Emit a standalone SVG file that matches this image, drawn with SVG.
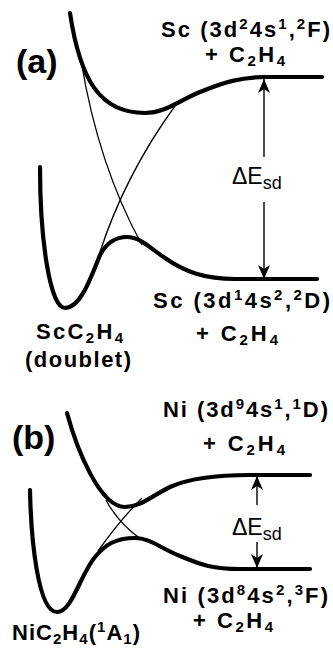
<svg xmlns="http://www.w3.org/2000/svg" width="333" height="648" viewBox="0 0 333 648">
<style>
.thick{fill:none;stroke:#000;stroke-width:4.2;stroke-linecap:round;stroke-linejoin:round}
.thin{fill:none;stroke:#000;stroke-width:1.3}
.arr{fill:none;stroke:#000;stroke-width:1.4}
.lbl{font-family:"Liberation Sans",Arial,sans-serif;font-weight:bold;font-size:22px;fill:#000}
.big{font-family:"Liberation Sans",Arial,sans-serif;font-weight:bold;font-size:34px;fill:#000}
.de{font-family:"Liberation Sans",Arial,sans-serif;font-size:23px;fill:#000}
.s{font-size:15px}
.sd{font-size:18px}
</style>
<defs>
<marker id="ah" viewBox="0 0 14 12" markerUnits="userSpaceOnUse" markerWidth="14" markerHeight="12" refX="14" refY="6" orient="auto">
<path d="M0,0 L14,6 L0,12 L4,6 Z" fill="#000"/>
</marker>
</defs>
<rect width="333" height="648" fill="#fff"/>

<g id="panel-a-curves">
<path id="a-upper" class="thick" d="M70,13 C80,80 100,113 145,113 C165,113 180,100 200,92 C222,83 240,77 265,77 L322,77"/>
<path id="a-lower" class="thick" d="M40,167 C40,240 50,308 65,308 C80,308 90,280 100,255 C108,240 118,237 127,237 C140,237 150,248 165,258 C185,272 205,279 235,279 L317,279"/>
<path id="a-diab1" class="thin" d="M81,60 Q98,165 142,245"/>
<path id="a-diab2" class="thin" d="M100,252 Q125,175 175,106"/>
</g>

<g id="panel-b-curves">
<path id="b-upper" class="thick" d="M67,413 C77,450 100,507 125,507 C140,507 150,497 170,487 C190,478 215,475 250,475 L310,475"/>
<path id="b-lower" class="thick" d="M30,490 C31,540 38,612 57,612 C72,612 80,575 95,557 C105,545 115,538 135,538 C150,538 160,548 180,556 C200,564 210,569 240,569 L310,569"/>
<path id="b-diab1" class="thin" d="M106,500 Q118,523 142,540"/>
<path id="b-diab2" class="thin" d="M142,498 Q120,520 98,551"/>
</g>

<g id="connectors">
<path class="arr" d="M264,157 L264,79" marker-end="url(#ah)"/>
<path class="arr" d="M264,202 L264,279" marker-end="url(#ah)"/>
<path class="arr" d="M257,505 L257,476" marker-end="url(#ah)"/>
<path class="arr" d="M257,542 L257,568" marker-end="url(#ah)"/>
</g>

<g id="label-a"><text class="big" x="16" y="73">(a)</text></g>
<g id="sc-excited">
<text class="lbl" x="161" y="37" textLength="169" lengthAdjust="spacing">Sc (3d<tspan class="s" dy="-8">2</tspan><tspan dy="8">4s</tspan><tspan class="s" dy="-8">1</tspan><tspan dy="8">,</tspan><tspan class="s" dy="-8">2</tspan><tspan dy="8">F)</tspan></text>
<text class="lbl" x="205" y="62" textLength="80" lengthAdjust="spacing">+ C<tspan class="s" dy="4">2</tspan><tspan dy="-4">H</tspan><tspan class="s" dy="4">4</tspan></text>
</g>
<g id="de-a"><text class="de" x="232" y="184">ΔE<tspan class="sd" dy="5">sd</tspan></text></g>
<g id="sc-ground">
<text class="lbl" x="153" y="308" textLength="177" lengthAdjust="spacing">Sc (3d<tspan class="s" dy="-8">1</tspan><tspan dy="8">4s</tspan><tspan class="s" dy="-8">2</tspan><tspan dy="8">,</tspan><tspan class="s" dy="-8">2</tspan><tspan dy="8">D)</tspan></text>
<text class="lbl" x="196" y="341" textLength="82" lengthAdjust="spacing">+ C<tspan class="s" dy="4">2</tspan><tspan dy="-4">H</tspan><tspan class="s" dy="4">4</tspan></text>
</g>
<g id="scc2h4">
<text class="lbl" x="36" y="339" textLength="87" lengthAdjust="spacing">ScC<tspan class="s" dy="4">2</tspan><tspan dy="-4">H</tspan><tspan class="s" dy="4">4</tspan></text>
<text class="lbl" x="25" y="367" textLength="106" lengthAdjust="spacing">(doublet)</text>
</g>

<g id="label-b"><text class="big" x="12" y="449">(b)</text></g>
<g id="ni-excited">
<text class="lbl" x="163" y="417" textLength="165" lengthAdjust="spacing">Ni (3d<tspan class="s" dy="-8">9</tspan><tspan dy="8">4s</tspan><tspan class="s" dy="-8">1</tspan><tspan dy="8">,</tspan><tspan class="s" dy="-8">1</tspan><tspan dy="8">D)</tspan></text>
<text class="lbl" x="203" y="451" textLength="82" lengthAdjust="spacing">+ C<tspan class="s" dy="4">2</tspan><tspan dy="-4">H</tspan><tspan class="s" dy="4">4</tspan></text>
</g>
<g id="de-b"><text class="de" x="232" y="535">ΔE<tspan class="sd" dy="5">sd</tspan></text></g>
<g id="ni-ground">
<text class="lbl" x="163" y="603" textLength="165" lengthAdjust="spacing">Ni (3d<tspan class="s" dy="-8">8</tspan><tspan dy="8">4s</tspan><tspan class="s" dy="-8">2</tspan><tspan dy="8">,</tspan><tspan class="s" dy="-8">3</tspan><tspan dy="8">F)</tspan></text>
<text class="lbl" x="193" y="628" textLength="80" lengthAdjust="spacing">+ C<tspan class="s" dy="4">2</tspan><tspan dy="-4">H</tspan><tspan class="s" dy="4">4</tspan></text>
</g>
<g id="nic2h4">
<text class="lbl" x="12" y="640" textLength="128" lengthAdjust="spacing">NiC<tspan class="s" dy="4">2</tspan><tspan dy="-4">H</tspan><tspan class="s" dy="4">4</tspan><tspan dy="-4">(</tspan><tspan class="s" dy="-8">1</tspan><tspan dy="8">A</tspan><tspan class="s" dy="4">1</tspan><tspan dy="-4">)</tspan></text>
</g>
</svg>
